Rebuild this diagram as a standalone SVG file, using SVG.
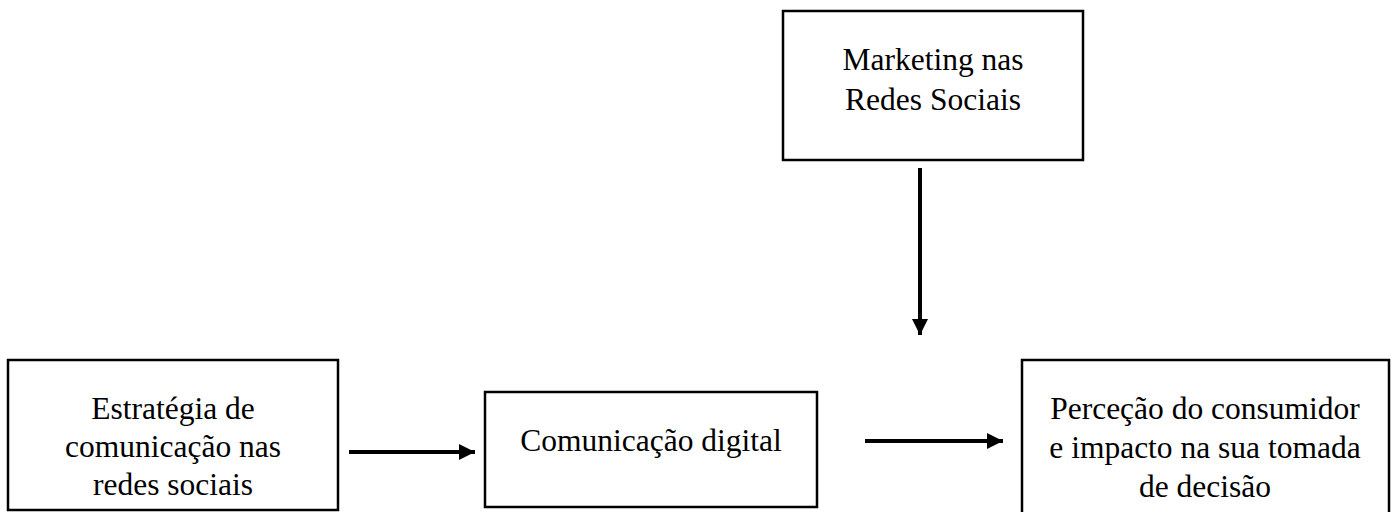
<svg xmlns="http://www.w3.org/2000/svg" width="1397" height="512" viewBox="0 0 1397 512">
  <style>
    .box { fill: #ffffff; stroke: #000000; stroke-width: 2.5; }
    .label { font-family: "Liberation Serif", "Times New Roman", serif; font-size: 31.5px; fill: #000000; text-anchor: middle; }
    .link { stroke: #000000; stroke-width: 4; fill: none; }
  </style>
  <defs>
    <marker id="head" viewBox="0 0 16 16" refX="16" refY="8" markerWidth="16" markerHeight="16" markerUnits="userSpaceOnUse" orient="auto">
      <path d="M0,0 L16,8 L0,16 Z" fill="#000000"/>
    </marker>
  </defs>
  <rect width="1397" height="512" fill="#ffffff"/>

  <g id="node-marketing">
    <rect class="box" x="783" y="11" width="300" height="149"/>
    <text class="label" x="933" y="70">Marketing nas</text>
    <text class="label" x="933" y="110">Redes Sociais</text>
  </g>

  <g id="node-estrategia">
    <rect class="box" x="8" y="360" width="330" height="150"/>
    <text class="label" x="173" y="419">Estratégia de</text>
    <text class="label" x="173" y="457">comunicação nas</text>
    <text class="label" x="173" y="495">redes sociais</text>
  </g>

  <g id="node-comunicacao">
    <rect class="box" x="485" y="392" width="332" height="115"/>
    <text class="label" x="651" y="451">Comunicação digital</text>
  </g>

  <g id="node-percecao">
    <rect class="box" x="1022" y="360" width="367" height="160"/>
    <text class="label" x="1205" y="419">Perceção do consumidor</text>
    <text class="label" x="1205" y="458">e impacto na sua tomada</text>
    <text class="label" x="1205" y="497">de decisão</text>
  </g>

  <g id="connectors">
    <line class="link" x1="349" y1="452" x2="475" y2="452" marker-end="url(#head)"/>
    <line class="link" x1="865" y1="441" x2="1003" y2="441" marker-end="url(#head)"/>
    <line class="link" x1="920" y1="168" x2="920" y2="335" marker-end="url(#head)"/>
  </g>
</svg>
